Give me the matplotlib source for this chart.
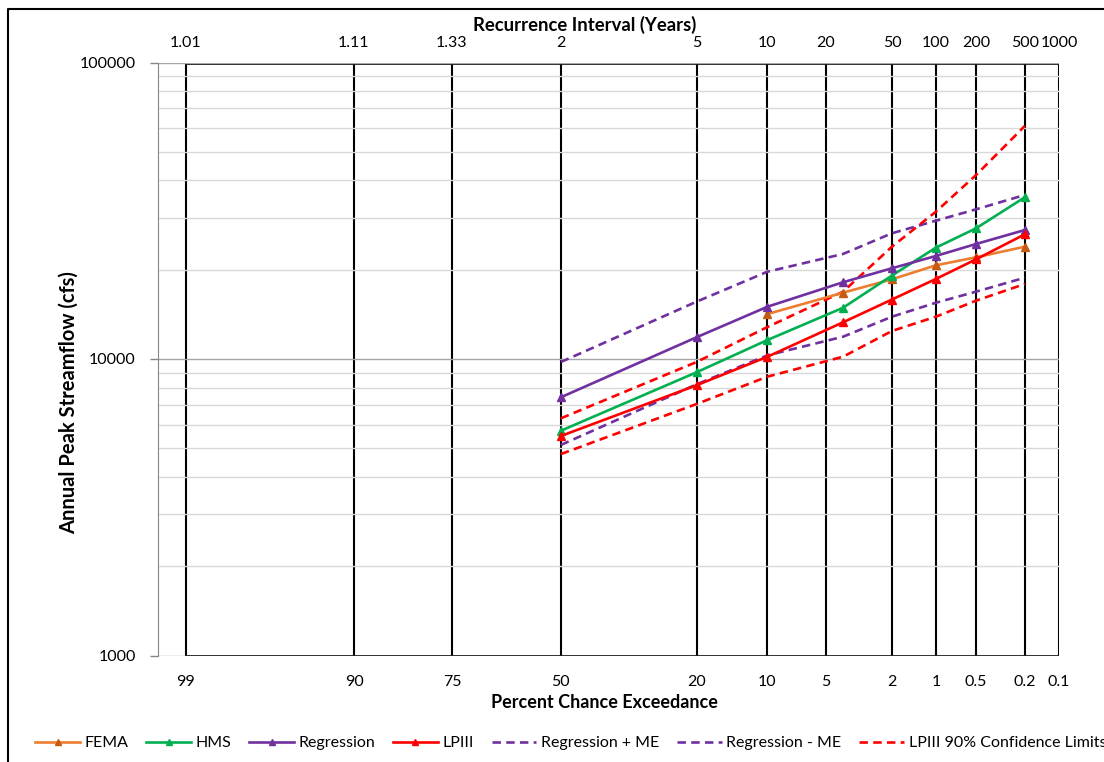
import numpy as np
import matplotlib
matplotlib.use('Agg')
import matplotlib.pyplot as plt
from matplotlib.lines import Line2D
from math import erf, sqrt

plt.rcParams['font.family'] = ['Lato', 'DejaVu Sans']
plt.rcParams['font.size'] = 11.5

# percent chance exceedance of the computed events (2 .. 500 yr)
exceedance = [50, 20, 10, 4, 2, 1, 0.5, 0.2]
fema_exceedance = [10, 4, 2, 1, 0.5, 0.2]

fema = [14180, 16740, 18570, 20700, 22030, 23920]
hms = [5730, 9020, 11590, 14890, 19120, 23740, 27600, 35120]
regression = [7430, 11840, 15010, 18150, 20230, 22260, 24430, 27230]
lpiii = [5500, 8155, 10180, 13300, 15870, 18620, 21690, 26340]
regression_plus_me = [9770, 15610, 19700, 22610, 26550, 29270, 31980, 35740]
regression_minus_me = [5130, 8215, 10290, 11890, 13890, 15480, 16870, 18800]
lpiii_upper = [6310, 9770, 12820, 16870, 23920, 31390, 41740, 61070]
lpiii_lower = [4780, 7050, 8720, 10180, 12430, 13890, 15730, 17910]

# probability paper grid
exceed_ticks = [99, 90, 75, 50, 20, 10, 5, 2, 1, 0.5, 0.2, 0.1]
recurrence = [1.01, 1.11, 1.33, 2, 5, 10, 20, 50, 100, 200, 500, 1000]

_erf = np.vectorize(erf, otypes=[float])


def norm_cdf(z):
    return 0.5 * (1.0 + _erf(np.asarray(z, dtype=float) / sqrt(2.0)))


def norm_ppf(q):
    # plain bisection, good enough for an axis transform
    q = np.clip(np.asarray(q, dtype=float), 1e-12, 1 - 1e-12)
    lo = np.full(q.shape, -8.0)
    hi = np.full(q.shape, 8.0)
    for _ in range(60):
        mid = 0.5 * (lo + hi)
        below = norm_cdf(mid) < q
        lo = np.where(below, mid, lo)
        hi = np.where(below, hi, mid)
    return 0.5 * (lo + hi)


def prob_forward(p):
    return norm_ppf(np.asarray(p, dtype=float) / 100.0)


def prob_inverse(z):
    return 100.0 * norm_cdf(z)


x_left = float(prob_inverse(2.5))   # z = -2.5 on the exceedance side

fig = plt.figure(figsize=(11.04, 7.62), dpi=100)
ax = fig.add_axes([158 / 1104, 1 - 655.5 / 762, (1059 - 158) / 1104, 593 / 762])

ax.set_xscale('function', functions=(prob_forward, prob_inverse))
ax.set_yscale('log')
ax.set_xlim(x_left, exceed_ticks[-1])
ax.set_ylim(1000, 100000)

# horizontal grid
ax.set_yticks([1000, 10000, 100000])
ax.set_yticklabels(['1000', '10000', '100000'])
ax.yaxis.set_minor_locator(matplotlib.ticker.LogLocator(base=10, subs=np.arange(2, 10)))
ax.yaxis.set_minor_formatter(matplotlib.ticker.NullFormatter())
ax.grid(True, which='major', axis='y', color='#a6a6a6', lw=1.0, zorder=0)
ax.grid(True, which='minor', axis='y', color='#d9d9d9', lw=1.0, zorder=0)
ax.tick_params(axis='y', which='major', length=6, width=1, color='#868686', pad=10)
ax.tick_params(axis='y', which='minor', length=0)

# vertical probability lines plus top/bottom rule
ax.set_xticks(exceed_ticks)
ax.set_xticklabels(['%g' % v for v in exceed_ticks])
ax.xaxis.set_minor_locator(matplotlib.ticker.NullLocator())
ax.tick_params(axis='x', length=0, pad=14)
ax.vlines(exceed_ticks, 1000, 100000, color='black', lw=1.5, zorder=1)
ax.hlines([1000, 100000], exceed_ticks[0], exceed_ticks[-1], color='black', lw=2.0, zorder=1)

for side in ['top', 'right', 'bottom']:
    ax.spines[side].set_visible(False)
ax.spines['left'].set_color('#868686')

ax.set_xlabel('Percent Chance Exceedance', fontweight='bold', fontsize=13)
ax.xaxis.set_label_coords(0.496, -0.080)
ax.xaxis.label.set_va('center')
ax.set_ylabel('Annual Peak Streamflow (cfs)', fontweight='bold', fontsize=14.5)
ax.yaxis.set_label_coords(-0.099, 0.426)
ax.yaxis.label.set_va('center')

# recurrence interval axis along the top
top = ax.twiny()
top.set_xscale('function', functions=(prob_forward, prob_inverse))
top.set_xlim(ax.get_xlim())
top.set_xticks([100.0 / t for t in recurrence])
top.set_xticklabels(['%g' % t for t in recurrence])
top.xaxis.set_minor_locator(matplotlib.ticker.NullLocator())
top.tick_params(axis='x', length=0, pad=9)
for side in ['top', 'right', 'bottom', 'left']:
    top.spines[side].set_visible(False)
top.set_xlabel('Recurrence Interval (Years)', fontweight='bold', fontsize=13.3)
top.xaxis.set_label_coords(0.474, 1.063)
top.xaxis.label.set_va('center')

# series
lw = 1.9
dash = (3.2, 2.0)
ax.plot(fema_exceedance, fema, color='#ED7D31', lw=lw, marker='^', ms=6,
        mfc='#C55A11', mec='#C55A11', label='FEMA', zorder=5)
ax.plot(exceedance, hms, color='#00B050', lw=lw, marker='^', ms=6,
        label='HMS', zorder=5)
ax.plot(exceedance, regression, color='#7030A0', lw=lw, marker='^', ms=6,
        label='Regression', zorder=5)
ax.plot(exceedance, lpiii, color='#FF0000', lw=lw, marker='^', ms=6,
        label='LPIII', zorder=5)
ax.plot(exceedance, regression_plus_me, color='#7030A0', lw=lw, ls=(0, dash),
        label='Regression + ME', zorder=4)
ax.plot(exceedance, regression_minus_me, color='#7030A0', lw=lw, ls=(0, dash),
        label='Regression - ME', zorder=4)
ax.plot(exceedance, lpiii_upper, color='#FF0000', lw=lw, ls=(0, dash),
        label='LPIII 90% Confidence Limits', zorder=4)
ax.plot(exceedance, lpiii_lower, color='#FF0000', lw=lw, ls=(0, dash),
        label='_nolegend_', zorder=4)

handles, labels = ax.get_legend_handles_labels()
fig.legend(handles, labels, loc='center', ncol=7, frameon=False,
           bbox_to_anchor=(0.517, 1 - 743 / 762), handlelength=2.8,
           handletextpad=0.3, columnspacing=1.1, markerscale=0.8)

# chart outline (left and top edges)
fig.add_artist(Line2D([8 / 1104, 8 / 1104, 1.0], [0.0, 1 - 9 / 762, 1 - 9 / 762],
                      transform=fig.transFigure, color='black', lw=1.5))

fig.savefig('out.png', dpi=100)
